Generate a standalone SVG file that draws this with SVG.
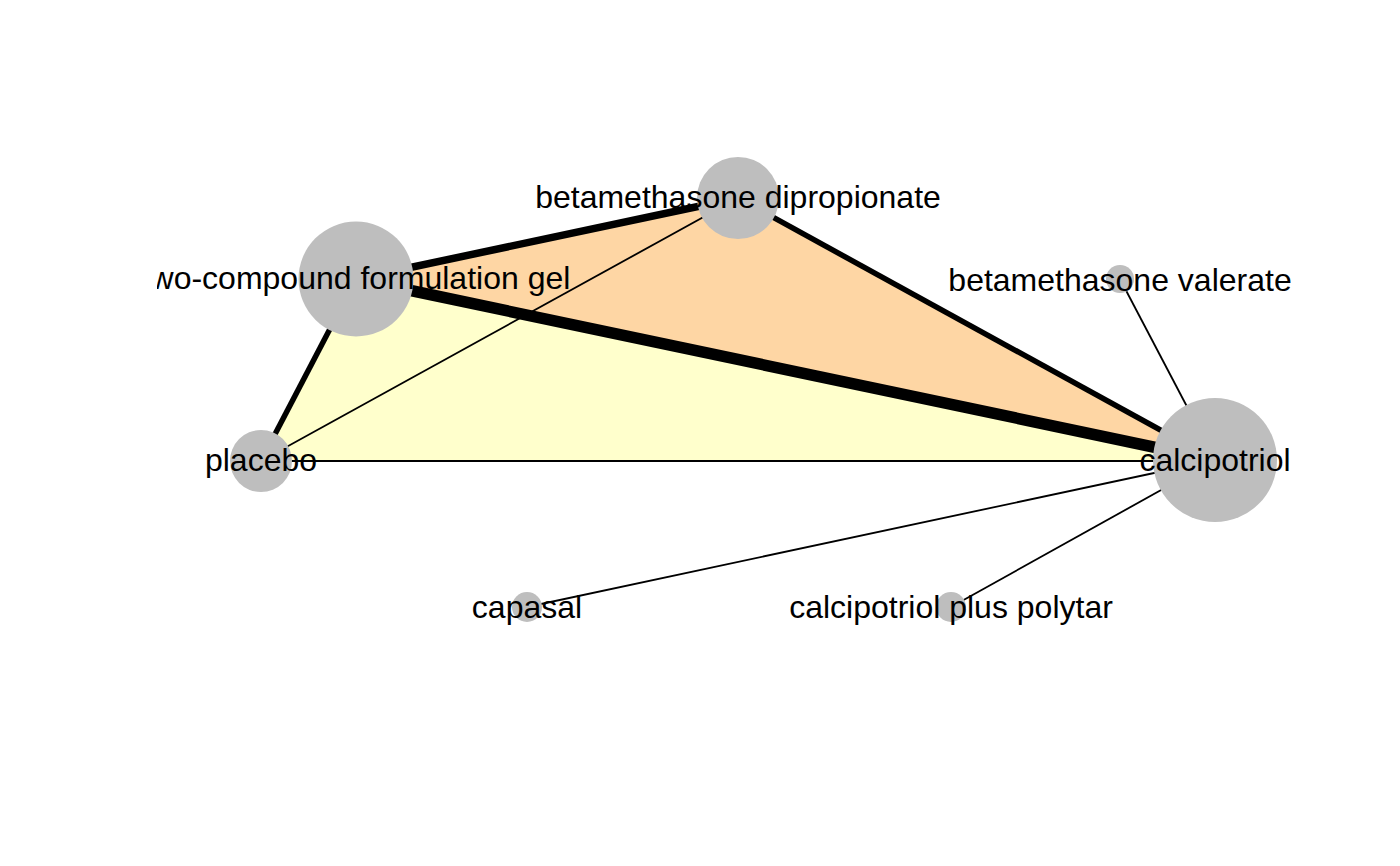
<svg xmlns="http://www.w3.org/2000/svg" width="1400" height="866" viewBox="0 0 1400 866">
<style>
.node{fill:#bebebe;stroke:none}
.lbl{font-family:"Liberation Sans",Arial,sans-serif;font-size:32px;fill:#000;text-anchor:middle}
.e{stroke:#000;stroke-linecap:butt;fill:none}
</style>
<defs>
<clipPath id="plotclip"><rect x="157" y="0" width="1243" height="866"/></clipPath>
</defs>
<rect width="1400" height="866" fill="#ffffff"/>
<g id="multiarm">
<polygon points="356,279 261,461 1215,460" fill="#ffffcc"/>
<polygon points="356,279 738,198 1215,460" fill="#fed6a4"/>
</g>
<g id="connectors">
<line class="e" x1="261" y1="461" x2="738" y2="198" stroke-width="1.8"/>
<line class="e" x1="261" y1="461" x2="1215" y2="461" stroke-width="1.8"/>
<line class="e" x1="1120" y1="279" x2="1215" y2="460" stroke-width="1.8"/>
<line class="e" x1="527" y1="607" x2="1215" y2="460" stroke-width="1.8"/>
<line class="e" x1="951" y1="607" x2="1215" y2="460" stroke-width="1.8"/>
<line class="e" x1="356" y1="279" x2="261" y2="461" stroke-width="5.5"/>
<line class="e" x1="738" y1="198" x2="1215" y2="460" stroke-width="5.5"/>
<line class="e" x1="356" y1="279" x2="738" y2="198" stroke-width="7.5"/>
<line class="e" x1="356" y1="279" x2="1215" y2="460" stroke-width="11.5"/>
</g>
<g id="node-gel"><circle class="node" cx="356" cy="279" r="57.5"/><text class="lbl" x="356" y="289" clip-path="url(#plotclip)">two-compound formulation gel</text></g>
<g id="node-bdp"><circle class="node" cx="738" cy="198" r="41"/><text class="lbl" x="738" y="208">betamethasone dipropionate</text></g>
<g id="node-bv"><circle class="node" cx="1120" cy="279" r="14"/><text class="lbl" x="1120" y="291">betamethasone valerate</text></g>
<g id="node-calc"><circle class="node" cx="1215" cy="460" r="62"/><text class="lbl" x="1215" y="471">calcipotriol</text></g>
<g id="node-placebo"><circle class="node" cx="261" cy="461" r="31"/><text class="lbl" x="261" y="471">placebo</text></g>
<g id="node-capasal"><circle class="node" cx="527" cy="607" r="15"/><text class="lbl" x="527" y="618">capasal</text></g>
<g id="node-polytar"><circle class="node" cx="951" cy="607" r="15"/><text class="lbl" x="951" y="618">calcipotriol plus polytar</text></g>
</svg>
